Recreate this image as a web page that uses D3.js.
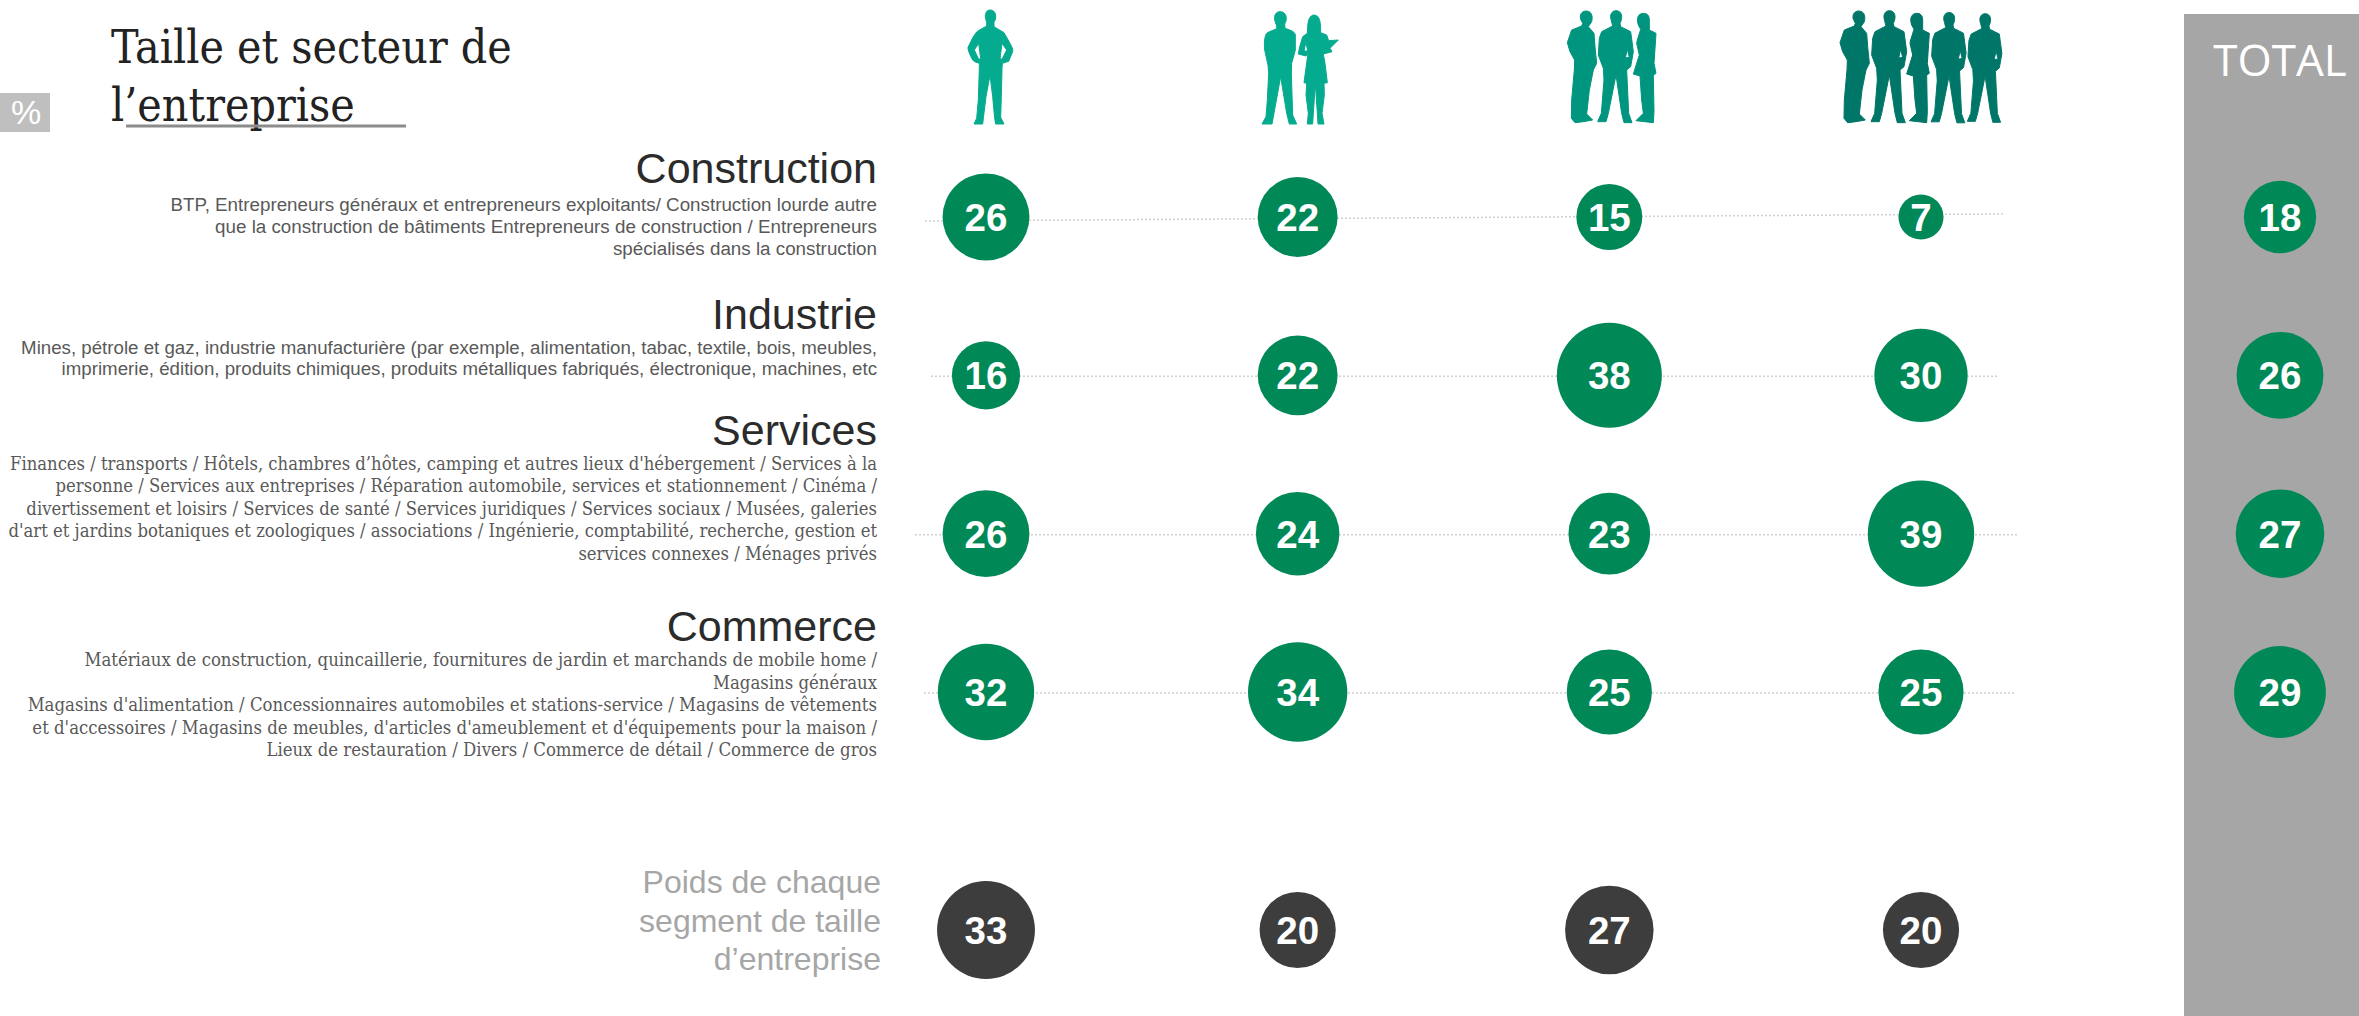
<!DOCTYPE html>
<html><head><meta charset="utf-8">
<script src="https://cdn.jsdelivr.net/npm/d3@7/dist/d3.min.js"></script>
<style>html,body{margin:0;padding:0;background:#fff}svg{display:block}</style>
</head><body><svg id="c" width="2359" height="1016"></svg>
<script>
const sizeCols = ["1", "2", "3", "4"];
const sectors = ["Construction", "Industrie", "Services", "Commerce"];
const construction = [26, 22, 15, 7];
const industrie = [16, 22, 38, 30];
const services = [26, 24, 23, 39];
const commerce = [32, 34, 25, 25];
const weights = [33, 20, 27, 20];
const totals = [18, 26, 27, 29];
const titleLines = ["Taille et secteur de", "l’entreprise"];
const weightLines = ["Poids de chaque", "segment de taille", "d’entreprise"];
const descConstruction = ["BTP, Entrepreneurs généraux et entrepreneurs exploitants/ Construction lourde autre", "que la construction de bâtiments Entrepreneurs de construction / Entrepreneurs", "spécialisés dans la construction"];
const descIndustrie = ["Mines, pétrole et gaz, industrie manufacturière (par exemple, alimentation, tabac, textile, bois, meubles,", "imprimerie, édition, produits chimiques, produits métalliques fabriqués, électronique, machines, etc"];
const descServices = ["Finances / transports / Hôtels, chambres d’hôtes, camping et autres lieux d'hébergement / Services à la", "personne / Services aux entreprises / Réparation automobile, services et stationnement / Cinéma /", "divertissement et loisirs / Services de santé / Services juridiques / Services sociaux / Musées, galeries", "d'art et jardins botaniques et zoologiques / associations / Ingénierie, comptabilité, recherche, gestion et", "services connexes / Ménages privés"];
const descCommerce = ["Matériaux de construction, quincaillerie, fournitures de jardin et marchands de mobile home /", "Magasins généraux", "Magasins d'alimentation / Concessionnaires automobiles et stations-service / Magasins de vêtements", "et d'accessoires / Magasins de meubles, d'articles d'ameublement et d'équipements pour la maison /", "Lieux de restauration / Divers / Commerce de détail / Commerce de gros"];

const SANS = "'Liberation Sans', Arial, sans-serif";
const SERIF = "'DejaVu Serif Condensed', 'DejaVu Serif', serif";
const svg = d3.select("#c");
const x = d3.scalePoint().domain(sizeCols).range([986, 1921]);
const yRow = d3.scalePoint().domain(sectors).range([217, 692]);
const r = d3.scaleSqrt().domain([0, 39]).range([0, 53.2]);
const rows = [construction, industrie, services, commerce];
const lineExt = [[925, 2004, 3, -4], [931, 1998, 0, 0], [915, 2019, 0, 0], [924, 2015, 0, 0]];

svg.append("rect").attr("x", 2184).attr("y", 14).attr("width", 175).attr("height", 1002).attr("fill", "#a6a6a6");
svg.append("rect").attr("x", 0).attr("y", 93).attr("width", 50).attr("height", 39).attr("fill", "#bfbfbf");
svg.append("text").attr("x", 26).attr("y", 124).attr("text-anchor", "middle").attr("font-family", SANS).attr("font-size", 34).attr("fill", "#fff").text("%");
svg.append("text").attr("x", 2280).attr("y", 76).attr("text-anchor", "middle").attr("font-family", "'Open Sans','Liberation Sans',sans-serif").attr("font-size", 44).attr("fill", "#fff").text("TOTAL");

// title
titleLines.forEach((t, i) => svg.append("text").attr("x", 111).attr("y", 63 + i * 58).attr("font-family", SERIF).attr("font-size", 46).attr("fill", "#222").text(t));
svg.append("line").attr("x1", 126).attr("x2", 406).attr("y1", 126).attr("y2", 126).attr("stroke", "#8c8c8c").attr("stroke-width", 3);

// sector text
const headBase = [183, 329, 445, 641];
sectors.forEach((s, i) => svg.append("text").attr("x", 877).attr("y", headBase[i]).attr("text-anchor", "end").attr("font-family", SANS).attr("font-size", 43).attr("fill", "#2b2b2b").text(s));
function block(lines, y0, dy, font, size) {
  lines.forEach((t, i) => svg.append("text").attr("x", 877).attr("y", y0 + i * dy).attr("text-anchor", "end").attr("font-family", font).attr("font-size", size).attr("fill", "#595959").text(t));
}
block(descConstruction, 211, 22, SANS, 18.8);
block(descIndustrie, 354, 20.5, SANS, 18.7);
block(descServices, 470, 22.4, SERIF, 18.3);
block(descCommerce, 666, 22.5, SERIF, 18.4);
weightLines.forEach((t, i) => svg.append("text").attr("x", 881).attr("y", 893 + i * 38.5).attr("text-anchor", "end").attr("font-family", SANS).attr("font-size", 32).attr("fill", "#a6a6a6").text(t));

// dotted lines
svg.selectAll(".guide").data(sectors).join("line").attr("class", "guide")
  .attr("x1", (d, i) => lineExt[i][0]).attr("x2", (d, i) => lineExt[i][1])
  .attr("y1", (d, i) => yRow(d) + 1 + lineExt[i][2]).attr("y2", (d, i) => yRow(d) + 1 + lineExt[i][3])
  .attr("stroke", "#d0d0d0").attr("stroke-width", 1.5).attr("stroke-dasharray", "2 2");

function bubbles(vals, cx, cy, fill) {
  const g = svg.append("g");
  vals.forEach((v, i) => {
    g.append("circle").attr("cx", cx(i)).attr("cy", cy(i)).attr("r", r(v)).attr("fill", fill);
    g.append("text").attr("x", cx(i)).attr("y", cy(i) + 14).attr("text-anchor", "middle").attr("font-family", SANS).attr("font-weight", "bold").attr("font-size", 38.5).attr("fill", "#fff").text(v);
  });
}
rows.forEach((vals, ri) => bubbles(vals, i => x(sizeCols[i]), () => yRow(sectors[ri]), "#008857"));
bubbles(totals, () => 2280, i => yRow(sectors[i]), "#008857");
bubbles(weights, i => x(sizeCols[i]), () => 930, "#3d3d3d");

// silhouettes: outlines traced in 3x reference pixels
const manHips = "M180 30C170 30 165 40 166 52C166 58 170 62 170 68L170 78L145 92C138 96 134 104 128 114L114 142C113 150 120 165 128 180L136 186L148 190L148 205L145 300L140 355L132 372L158 372L160 355L168 290L180 225L188 290L194 355L197 372L222 372L212 352L214 290L216 205L217 190L236 184L248 155C250 148 245 140 240 130L222 98L192 80L192 66C198 58 198 50 196 42C194 34 188 30 180 30ZM146 130L133 150L146 178L152 176ZM216 130L230 150L216 178L210 176Z";
const manDown = "M1050 35C1038 35 1032 45 1034 60L1040 78L1040 86L1012 98C1004 105 1002 125 1004 150L1014 195L1016 220L1012 300L1008 350L996 372L1026 372L1030 350L1052 230L1070 340L1078 372L1100 372L1088 345L1084 220L1085 190L1096 150L1096 105C1094 95 1085 92 1065 85L1064 72C1072 60 1072 35 1050 35Z";
const womanClip = "M1152 45C1140 45 1134 60 1133 80L1132 100L1118 110L1108 145L1105 162L1128 168L1134 160L1122 248L1130 250L1128 285L1135 340L1132 372L1148 372L1150 340L1156 250L1162 340L1164 372L1182 372L1176 340L1183 285L1182 250L1192 248L1185 190L1180 162L1206 155L1200 145L1225 120L1196 122L1190 105L1172 98C1172 75 1172 45 1152 45ZM1128 126L1122 152L1133 154Z";
const manSide = "M168 33C155 33 148 45 152 58L158 70L155 78L125 90L112 128L120 155L134 180L133 210L125 300L124 355L135 368L160 365L188 360L170 342L178 270L190 210L200 190L195 140L192 100L175 80L185 65C190 45 182 33 168 33Z";
const manFront = "M258 32C245 32 238 45 244 62L248 78L215 95L208 115L205 165L220 205L222 240L214 340L203 365L228 365L235 340L258 225L275 340L282 368L306 368L296 340L290 210L302 200L310 155L302 95L272 80L270 70C280 50 275 32 258 32ZM292 148L286 174L298 172Z";
const womanSide = "M340 40C325 40 318 55 325 75L332 88L322 120L320 130L328 165L310 222L330 228L335 300L340 340L318 362L370 368L372 335L370 225L378 220L372 190L378 100L358 90L358 60C358 45 350 40 340 40Z";

const figures = [
  { ox: 930, fill: "#05ab8e", parts: [[manHips, 0, 0, 1]] },
  { ox: 930, fill: "#05ab8e", parts: [[manDown, 0, 0, 1], [womanClip, 0, 0, 1]] },
  { ox: 1530, fill: "#00957e", parts: [[manSide, 0, 0, 1], [manFront, 0, 0, 1], [womanSide, 0, 0, 1]] },
  { ox: 1530, fill: "#007668", parts: [[manSide, 818, 0, 1], [manFront, 820, 0, 1], [womanSide, 820, 0, 1], [manFront, 1003, 6, 0.985], [manFront, 1115, 10, 0.97]] }
];
figures.forEach(f => {
  const g = svg.append("g").attr("transform", `translate(${f.ox},0) scale(${1 / 3})`)
    .attr("fill", f.fill).attr("fill-rule", "evenodd")
    .attr("stroke", f.fill).attr("stroke-width", 3).attr("stroke-linejoin", "round");
  f.parts.forEach(p => g.append("path").attr("d", p[0]).attr("transform", `translate(${p[1]},${p[2]}) scale(${p[3]})`));
});
</script></body></html>
